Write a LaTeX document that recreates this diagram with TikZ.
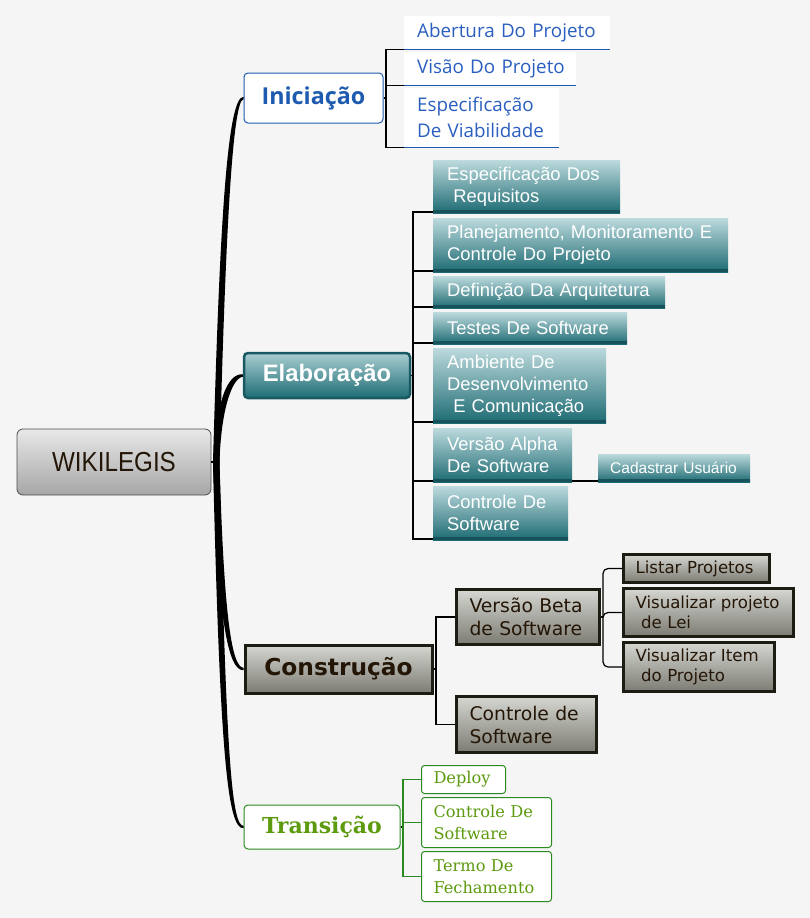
\documentclass[tikz,border=0pt]{standalone}
\usepackage{fontspec}
\usepackage{graphicx}
\setmainfont{Liberation Sans}
\newfontfamily\osans{Open Sans}
\newfontfamily\dvsans{DejaVu Sans}
\newfontfamily\dvserif{DejaVu Serif}
\newfontfamily\lsans{Liberation Sans}
\usetikzlibrary{calc}
\definecolor{bg}{HTML}{F5F5F5}
\definecolor{iblue}{HTML}{1E5BB0}
\definecolor{itext}{HTML}{2A5FC0}
\definecolor{tealtop}{HTML}{BCDADD}
\definecolor{tealbot}{HTML}{1C6A72}
\definecolor{tealbar}{HTML}{17525A}
\definecolor{eltop}{HTML}{A8CED2}
\definecolor{elbot}{HTML}{1E6C74}
\definecolor{elbord}{HTML}{185860}
\definecolor{gtop}{HTML}{D6D6D2}
\definecolor{gbot}{HTML}{7C7C74}
\definecolor{gbord}{HTML}{1C1C12}
\definecolor{gtext}{HTML}{241606}
\definecolor{tgreen}{HTML}{2A8A20}
\definecolor{ttext}{HTML}{5C9A0E}
\definecolor{rtop}{HTML}{E8E8E8}
\definecolor{rbot}{HTML}{A6A6A6}
\begin{document}
\begin{tikzpicture}[x=1pt,y=-1pt,
  box/.style={anchor=north west, inner ysep=0pt, align=left},
  inichild/.style={box, fill=white, inner xsep=13pt, text=itext, font=\osans\fontsize{18.8}{26}\selectfont},
  tealchild/.style={box, top color=tealtop, bottom color=tealbot, inner xsep=14pt, text=white, font=\lsans\fontsize{18.4}{22}\selectfont},
  graychild/.style={box, top color=gtop, bottom color=gbot, draw=gbord, line width=3pt, text=gtext},
  greenchild/.style={box, fill=white, draw=tgreen, line width=1pt, rounded corners=3pt, inner xsep=12pt, text=ttext, font=\dvserif\fontsize{16.2}{22}\selectfont},
  link/.style={draw=black, line width=1.2pt},
  glink/.style={draw=tgreen, line width=1.2pt},
  tealbarline/.style={draw=tealbar, line width=3pt},
  bluebar/.style={draw=iblue, line width=1.5pt}]
\fill[bg] (0,0) rectangle (810,918);
\useasboundingbox (0,0) rectangle (810,918);

% root
\node[draw=black!70, line width=0.8pt, rounded corners=6pt, top color=rtop, bottom color=rbot,
  minimum width=194pt, minimum height=66pt, inner sep=0pt, text=gtext,
  font=\lsans\fontsize{27.5}{30}\selectfont] (root) at (114,462) {\scalebox{0.88}[1]{WIKILEGIS}};
\coordinate (rj) at (216,462);

% main branches
\node[draw=iblue, line width=1pt, rounded corners=4pt, fill=white, minimum width=139pt, minimum height=50pt,
  inner sep=0pt, text=iblue, font=\osans\bfseries\fontsize{23.3}{26}\selectfont] (ini) at (313.5,98) {Iniciação};
\node[draw=elbord, line width=2.5pt, rounded corners=4pt, top color=eltop, bottom color=elbot, minimum width=166pt, minimum height=45pt,
  inner sep=0pt, text=white, font=\lsans\bfseries\fontsize{23.8}{26}\selectfont] (ela) at (327,375.5) {Elaboração};
\node[draw=gbord, line width=3pt, top color=gtop, bottom color=gbot, minimum width=187pt, minimum height=48pt,
  inner sep=0pt, text=gtext, font=\dvsans\bfseries\fontsize{23.3}{26}\selectfont] (con) at (338.5,669) {Construção};
\node[draw=tgreen, line width=1pt, rounded corners=4pt, fill=white, minimum width=156pt, minimum height=44pt,
  inner sep=0pt, text=ttext, font=\dvserif\bfseries\fontsize{22}{24}\selectfont] (tra) at (322,827) {Transição};

% tapered main connectors
\draw[link] (root.east) -- (rj);
\fill[black] (213,462) .. controls (219,250) and (226,96) .. ([yshift=1.2pt]ini.west)
  -- ([yshift=-1.2pt]ini.west) .. controls (232,100) and (225,250) .. (219.5,462) -- cycle;
\fill[black] (213,462) .. controls (216,400) and (228,373) .. ([yshift=1.2pt]ela.west)
  -- ([yshift=-1.2pt]ela.west) .. controls (232,378) and (221,410) .. (219.5,462) -- cycle;
\fill[black] (219.5,462) .. controls (224,620) and (232,667) .. ([yshift=1.2pt]con.west)
  -- ([yshift=-1.2pt]con.west) .. controls (228,671) and (218,620) .. (213,462) -- cycle;
\fill[black] (219.5,462) .. controls (226,760) and (232,826) .. ([yshift=1.2pt]tra.west)
  -- ([yshift=-1.2pt]tra.west) .. controls (228,829) and (220,760) .. (213,462) -- cycle;

% Iniciacao children
\node[inichild, minimum width=206pt, text width=180pt, minimum height=33pt] (i1) at (404,16) {\mbox{Abertura Do Projeto}};
\node[inichild, minimum width=172pt, text width=146pt, minimum height=33pt] (i2) at (404,52) {\mbox{Visão Do Projeto}};
\node[inichild, minimum width=155pt, text width=129pt, minimum height=59pt] (i3) at (404,88) {\mbox{Especificação}\\\mbox{De Viabilidade}};
\foreach \n in {i1,i2,i3} \draw[bluebar] (\n.south west) -- (\n.south east);
\draw[link] (ini.east) -- ($(ini.east -| i1.south west)+(-18,0)$);
\draw[link] (i1.south west) -- ++(-18,0) |- (i3.south west);
\draw[link] (i2.south west) -- ++(-18,0);

% Elaboracao children
\node[tealchild, minimum width=187pt, text width=159pt, minimum height=53pt] (e1) at (433,160) {Especificação Dos\\\ Requisitos};
\node[tealchild, minimum width=295pt, text width=267pt, minimum height=54pt] (e2) at (433,218) {\mbox{Planejamento, Monitoramento E}\\Controle Do Projeto};
\node[tealchild, minimum width=232pt, text width=204pt, minimum height=32pt] (e3) at (433,276) {\mbox{Definição Da Arquitetura}};
\node[tealchild, minimum width=194pt, text width=166pt, minimum height=32pt] (e4) at (433,312) {\mbox{Testes De Software}};
\node[tealchild, minimum width=173pt, text width=145pt, minimum height=75pt] (e5) at (433,348) {Ambiente De\\\mbox{Desenvolvimento}\\\ \mbox{E Comunicação}};
\node[tealchild, minimum width=139pt, text width=111pt, minimum height=54pt] (e6) at (433,428) {\mbox{Versão Alpha}\\\mbox{De Software}};
\node[tealchild, minimum width=135pt, text width=107pt, minimum height=54pt] (e7) at (433,486) {\mbox{Controle De}\\Software};
\node[tealchild, inner xsep=12pt, minimum width=152pt, text width=128pt, minimum height=28pt,
  font=\lsans\fontsize{15.5}{18}\selectfont] (cad) at (598,454) {\mbox{Cadastrar Usuário}};
\foreach \n in {e1,e2,e3,e4,e5,e6,e7,cad}
  \draw[tealbarline] ([yshift=1.5pt]\n.south west) -- ([yshift=1.5pt]\n.south east);
\draw[link] (ela.east) -- ($(ela.east -| e1.south west)+(-20,0)$);
\draw[link] ([yshift=1.5pt]e1.south west) -- ++(-20,0) |- ([yshift=1.5pt]e7.south west);
\foreach \n in {e2,e3,e4,e5,e6}
  \draw[link] ([yshift=1.5pt]\n.south west) -- ++(-20,0);
\draw[link] ([yshift=1.5pt]e6.south east) -- ([yshift=1.5pt]cad.south west);

% Construcao children
\node[graychild, inner xsep=13pt, minimum width=143pt, text width=117pt, minimum height=55pt,
  font=\dvsans\fontsize{18.8}{23}\selectfont] (c1) at (455,588) {\mbox{Versão Beta}\\\mbox{de Software}};
\node[graychild, inner xsep=13pt, minimum width=140pt, text width=114pt, minimum height=56pt,
  font=\dvsans\fontsize{18.8}{23}\selectfont] (c2) at (455,695) {\mbox{Controle de}\\Software};
\node[graychild, inner xsep=12pt, minimum width=146pt, text width=122pt, minimum height=28pt,
  font=\dvsans\fontsize{16.6}{20}\selectfont] (g1) at (622,553) {\mbox{Listar Projetos}};
\node[graychild, inner xsep=12pt, minimum width=170pt, text width=146pt, minimum height=48pt,
  font=\dvsans\fontsize{16.6}{20}\selectfont] (g2) at (622,587) {\mbox{Visualizar projeto}\\\ de Lei};
\node[graychild, inner xsep=12pt, minimum width=151pt, text width=127pt, minimum height=49pt,
  font=\dvsans\fontsize{16.6}{20}\selectfont] (g3) at (622,641) {\mbox{Visualizar Item}\\\ \mbox{do Projeto}};
\draw[link] (con.east) -- ($(con.east -| c1.west)+(-19,0)$);
\draw[link] (c1.west) -- ++(-19,0) |- (c2.west);
\draw[link] (c1.east) -- ($(c1.east -| g1.west)+(-19,0)$);
\draw[link, rounded corners=5pt] (g1.west) -- ++(-19,0) |- (g3.west);
\draw[link, rounded corners=5pt] (g2.west) -- ++(-19,0) -- ++(0,5);

% Transicao children
\node[greenchild, minimum width=84pt, text width=60pt, minimum height=28pt] (t1) at (421,765) {Deploy};
\node[greenchild, minimum width=130pt, text width=106pt, minimum height=50pt] (t2) at (421,797) {\mbox{Controle De}\\Software};
\node[greenchild, minimum width=130pt, text width=106pt, minimum height=50pt] (t3) at (421,851) {Termo De\\\mbox{Fechamento}};
\draw[link] (tra.east) -- ($(tra.east -| t1.west)+(-18,0)$);
\draw[glink] (t1.west) -- ++(-18,0) |- (t3.west);
\draw[glink] (t2.west) -- ++(-18,0);
\end{tikzpicture}
\end{document}
